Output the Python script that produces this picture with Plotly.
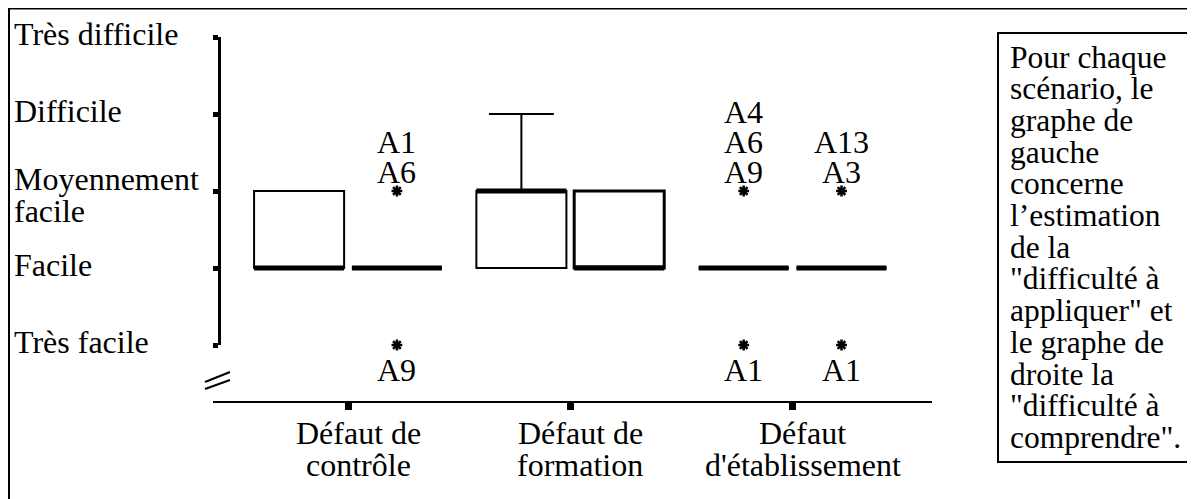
import plotly.graph_objects as go

# Scénarios (axe X) et libellés des deux lignes de chaque catégorie
categories = ["Défaut de contrôle", "Défaut de formation", "Défaut d'établissement"]
category_lines = [["Défaut de", "contrôle"], ["Défaut de", "formation"], ["Défaut", "d'établissement"]]

# Échelle de difficulté (axe Y)
y_levels = [1, 2, 3, 4, 5]
y_labels = [["Très facile"], ["Facile"], ["Moyennement", "facile"], ["Difficile"], ["Très difficile"]]

# Boîtes : "difficulté à appliquer" (gauche) et "difficulté à comprendre" (droite)
app_low = [2, 2, 2]
app_q1 = [2, 2, 2]
app_median = [2, 3, 2]
app_q3 = [3, 3, 2]
app_high = [3, 4, 2]

comp_low = [2, 2, 2]
comp_q1 = [2, 2, 2]
comp_median = [2, 2, 2]
comp_q3 = [2, 3, 2]
comp_high = [2, 3, 2]

# Valeurs extrêmes : catégorie, côté (-1 gauche, +1 droite), valeur, libellés
outlier_cat = [0, 0, 2, 2, 2, 2]
outlier_side = [1, 1, -1, -1, 1, 1]
outlier_value = [3, 1, 3, 1, 3, 1]
outlier_names = [["A6", "A1"], ["A9"], ["A9", "A6", "A4"], ["A1"], ["A3", "A13"], ["A1"]]

note_lines = ["Pour chaque", "scénario, le", "graphe de", "gauche", "concerne",
              "l’estimation", "de la", "\"difficulté à", "appliquer\" et",
              "le graphe de", "droite la", "\"difficulté à", "comprendre\"."]

# la page ajoute une marge de 8 px autour de la figure
OX, OY = 8, 8
W, H = 1195 - OX, 499 - OY
FONT = "Liberation Serif"
FS = 32
OFFSET = 0.22   # décalage des boîtes gauche/droite
BOXW = 0.405    # largeur d'une boîte


def px(x):
    return (x - OX) / W


def py(y):
    return 1 - (y - OY) / H


def police(size=FS):
    return dict(family=FONT, size=size, color="black")


fig = go.Figure()


def ajouter_boites(side, low, q1, med, q3, high, widths):
    for i in range(len(categories)):
        pos = i + side * OFFSET
        fig.add_trace(go.Box(
            x=[pos], q1=[q1[i]], median=[med[i]], q3=[q3[i]],
            lowerfence=[low[i]], upperfence=[high[i]],
            width=BOXW, whiskerwidth=0.72, boxpoints=False,
            fillcolor="white", line=dict(color="black", width=widths[i]),
            showlegend=False, hoverinfo="skip"))
        # médiane en trait épais
        fig.add_trace(go.Scatter(
            x=[pos - BOXW / 2, pos + BOXW / 2], y=[med[i], med[i]],
            mode="lines", line=dict(color="black", width=5),
            showlegend=False, hoverinfo="skip", cliponaxis=False))


ajouter_boites(-1, app_low, app_q1, app_median, app_q3, app_high, [2, 2, 2])
ajouter_boites(1, comp_low, comp_q1, comp_median, comp_q3, comp_high, [2, 3, 2])

# Étoiles des valeurs extrêmes
ox = [c + s * OFFSET for c, s in zip(outlier_cat, outlier_side)]
fig.add_trace(go.Scatter(
    x=ox, y=outlier_value, mode="markers",
    marker=dict(symbol="asterisk-open", size=9, color="black",
                line=dict(color="black", width=2.5)),
    showlegend=False, hoverinfo="skip", cliponaxis=False))

annotations = []
for x, v, names in zip(ox, outlier_value, outlier_names):
    for k, name in enumerate(names):
        shift = 19 + 30 * k if v > 2 else -25 - 30 * k
        annotations.append(dict(x=x, y=v, xref="x", yref="y", text=name, showarrow=False,
                                xanchor="center", yanchor="middle", yshift=shift,
                                font=police()))

# Libellés de l'axe Y, alignés à gauche
for v, lines in zip(y_levels, y_labels):
    shifts = [3] if len(lines) == 1 else [12, -20]
    for line, s in zip(lines, shifts):
        annotations.append(dict(x=px(12), y=v, xref="paper", yref="y", text=line,
                                showarrow=False, xanchor="left", yanchor="middle", yshift=s,
                                font=police()))

# Libellés des catégories
for i, lines in enumerate(category_lines):
    for k, line in enumerate(lines):
        annotations.append(dict(x=i, y=py(433 + 32 * k), xref="x", yref="paper", text=line,
                                showarrow=False, xanchor="center", yanchor="middle", xshift=10,
                                font=police()))

# Encadré explicatif
for k, line in enumerate(note_lines):
    annotations.append(dict(x=px(1008), y=py(57 + 31.7 * k), xref="paper", yref="paper",
                            text=line, showarrow=False, xanchor="left", yanchor="middle",
                            font=police(31.5)))

shapes = [
    # cadre extérieur
    dict(type="line", xref="paper", yref="paper", x0=px(9), x1=px(9), y0=py(8), y1=0,
         line=dict(color="black", width=2)),
    dict(type="line", xref="paper", yref="paper", x0=px(9), x1=px(1194), y0=py(8.5), y1=py(8.5),
         line=dict(color="black", width=2)),
    dict(type="line", xref="paper", yref="paper", x0=px(1193), x1=px(1193), y0=py(8), y1=0,
         line=dict(color="#d0d0d0", width=1)),
    # encadré de la note
    dict(type="rect", xref="paper", yref="paper", x0=px(998), x1=px(1188), y0=py(33), y1=py(462),
         line=dict(color="black", width=2), fillcolor="white", layer="below"),
    # coupure de l'axe
    dict(type="line", xref="paper", yref="paper", x0=px(205), x1=px(230), y0=py(382), y1=py(372),
         line=dict(color="black", width=2)),
    dict(type="line", xref="paper", yref="paper", x0=px(205), x1=px(230), y0=py(389), y1=py(380),
         line=dict(color="black", width=2)),
]

x0, x1, cx, step = 213, 932, 348, 222.3
fig.update_layout(
    width=W, height=H,
    margin=dict(l=0, r=0, t=0, b=0),
    paper_bgcolor="white", plot_bgcolor="rgba(0,0,0,0)",
    font=police(),
    showlegend=False,
    xaxis=dict(domain=[px(x0), px(x1)], range=[(x0 - cx) / step, (x1 - cx) / step],
               anchor="free", position=py(402),
               showline=True, linecolor="black", linewidth=2,
               tickvals=[0, 1, 2], ticktext=categories, showticklabels=False,
               ticks="outside", ticklen=7, tickwidth=7, tickcolor="black",
               showgrid=False, zeroline=False, fixedrange=True),
    yaxis=dict(domain=[py(345), py(37)], range=[1, 5],
               anchor="free", position=px(219),
               showline=True, linecolor="black", linewidth=3,
               tickvals=y_levels, showticklabels=False,
               ticks="outside", ticklen=5, tickwidth=5, tickcolor="black",
               showgrid=False, zeroline=False, fixedrange=True),
    annotations=annotations,
    shapes=shapes,
)

fig.write_html("out.html")
